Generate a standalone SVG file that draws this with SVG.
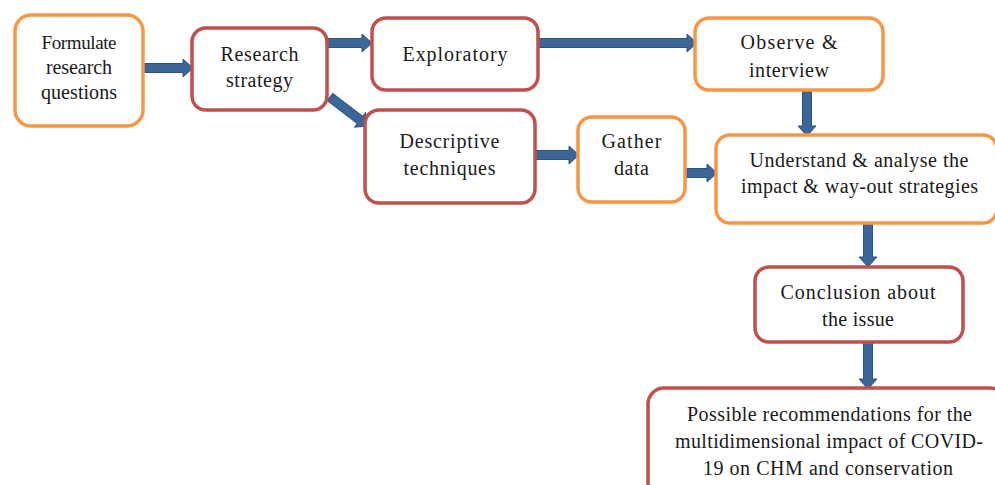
<svg xmlns="http://www.w3.org/2000/svg" width="995" height="485" viewBox="0 0 995 485">
<style>
.box{fill:#fff;stroke-width:3.5}
.o{stroke:#F79646}
.r{stroke:#C0504D}
.arr{fill:#3C6598;stroke:#2F5380;stroke-width:1}
text{font-family:"Liberation Serif","Times New Roman",serif;font-size:20px;fill:#1a1a1a;text-anchor:middle}
.s19{font-size:19px}
</style>
<rect width="995" height="485" fill="#fff"/>
<g id="connectors">
<path class="arr" d="M143 63.5H183V59L193 68L183 77V72.5H143Z"/>
<path class="arr" d="M327 38.5H362V34L372 43L362 52V47.5H327Z"/>
<path class="arr" d="M538 38.5H687V34L697 43L687 52V47.5H538Z"/>
<path class="arr" transform="translate(330,97) rotate(37.3)" d="M0 -4.5H37.8V-9L47.8 0L37.8 9V4.5H0Z"/>
<path class="arr" d="M535 150.5H569V146L579 155L569 164V159.5H535Z"/>
<path class="arr" d="M685 168.5H707V164L717 173L707 182V177.5H685Z"/>
<path class="arr" d="M802.5 90V126H798L807 136L816 126H811.5V90Z"/>
<path class="arr" d="M863.5 223V257H859L868 267L877 257H872.5V223Z"/>
<path class="arr" d="M863.5 342V379H859L868 389L877 379H872.5V342Z"/>
</g>
<g id="formulate">
<rect class="box o" x="15" y="15" width="128" height="111" rx="16"/>
<text class="s19" x="79" y="49" textLength="75">Formulate</text>
<text x="79" y="74" textLength="66">research</text>
<text x="79" y="99" textLength="76">questions</text>
</g>
<g id="research-strategy">
<rect class="box r" x="192" y="28" width="135" height="82" rx="14"/>
<text x="259.5" y="61" textLength="78">Research</text>
<text x="259.5" y="87" textLength="67">strategy</text>
</g>
<g id="exploratory">
<rect class="box r" x="372" y="18" width="166" height="72" rx="14"/>
<text x="455" y="61" textLength="105">Exploratory</text>
</g>
<g id="descriptive">
<rect class="box r" x="365" y="110" width="170" height="93" rx="14"/>
<text x="449.5" y="148" textLength="100">Descriptive</text>
<text x="449.5" y="175" textLength="92">techniques</text>
</g>
<g id="gather">
<rect class="box o" x="578" y="117" width="107" height="85" rx="14"/>
<text x="631.5" y="148" textLength="60">Gather</text>
<text x="631.5" y="175" textLength="35">data</text>
</g>
<g id="observe">
<rect class="box o" x="695" y="18" width="188" height="72" rx="14"/>
<text x="789" y="49" textLength="97">Observe &amp;</text>
<text x="789" y="77" textLength="80">interview</text>
</g>
<g id="understand">
<rect class="box o" x="716" y="135" width="281" height="88" rx="14"/>
<text x="859" y="167" textLength="219">Understand &amp; analyse the</text>
<text x="859.5" y="193" textLength="237">impact &amp; way-out strategies</text>
</g>
<g id="conclusion">
<rect class="box r" x="755" y="267" width="208" height="75" rx="14"/>
<text x="858" y="299" textLength="155">Conclusion about</text>
<text x="858" y="326" textLength="72">the issue</text>
</g>
<g id="recommendations">
<rect class="box r" x="648" y="388" width="358" height="112" rx="16"/>
<text x="829.5" y="421" textLength="285">Possible recommendations for the</text>
<text x="829" y="448" textLength="308">multidimensional impact of COVID-</text>
<text x="828" y="475" textLength="250">19 on CHM and conservation</text>
</g>
</svg>
